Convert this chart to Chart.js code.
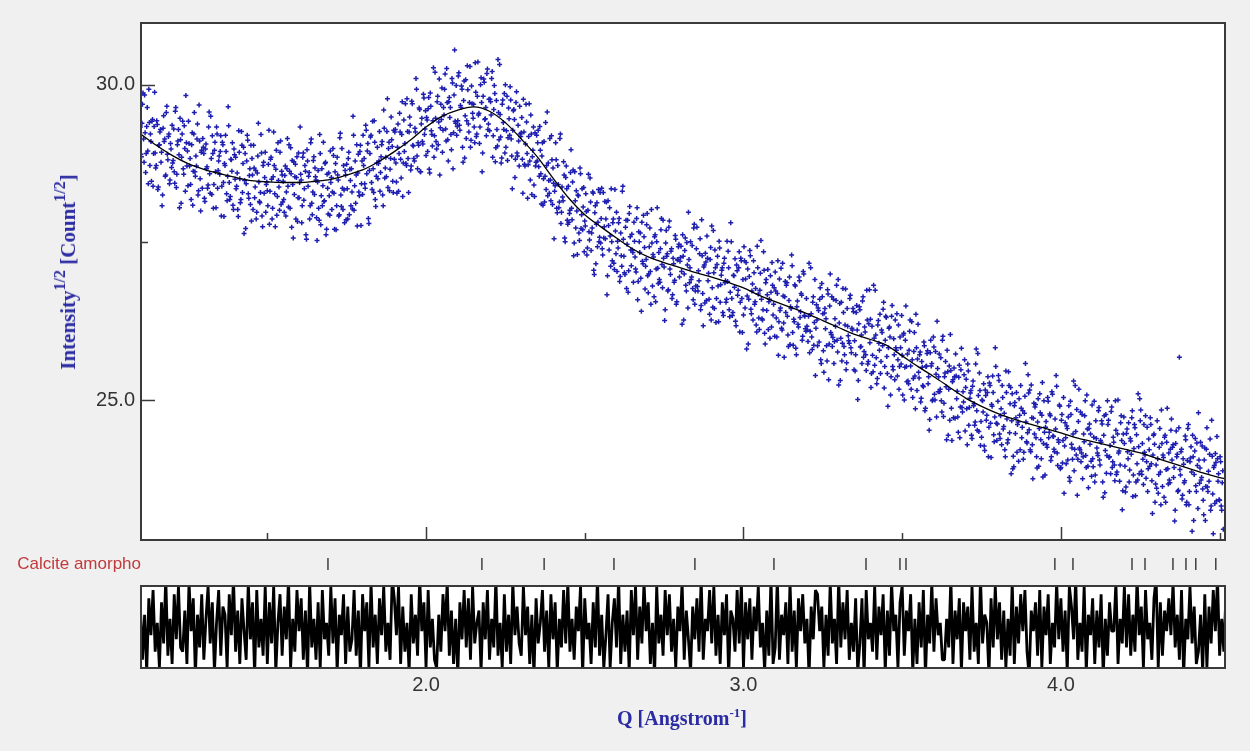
<!DOCTYPE html>
<html><head><meta charset="utf-8">
<script src="https://cdn.jsdelivr.net/npm/chart.js@4.4.0/dist/chart.umd.min.js"></script>
<style>
html,body{margin:0;padding:0;background:#f0f0f0;}
#wrap{position:relative;width:1250px;height:751px;overflow:hidden;background:#f0f0f0;}
canvas{position:absolute;left:0;top:0;}
.t{position:absolute;white-space:nowrap;}
#ytitle{left:68px;top:272px;transform:translate(-50%,-50%) rotate(-90deg);font:bold 21px 'Liberation Serif','Times New Roman',serif;color:#2b2ba3;line-height:24px;}
#xtitle{left:682px;top:718px;transform:translate(-50%,-50%);font:bold 20px 'Liberation Serif','Times New Roman',serif;color:#2b2ba3;line-height:24px;}
#ytitle sup{font-size:16px;}
sup{font-size:13px;line-height:0;vertical-align:0.6em;}
#phase{left:0;top:554px;width:141px;text-align:right;font:17px 'Liberation Sans',Arial,sans-serif;color:#c0393b;line-height:20px;}
</style></head>
<body><div id="wrap">
<canvas id="main" width="1250" height="751"></canvas>
<canvas id="marks" width="1250" height="751"></canvas>
<canvas id="resid" width="1250" height="751"></canvas>
<div class="t" id="ytitle">Intensity<sup>1/2</sup> [Count<sup>1/2</sup>]</div>
<div class="t" id="xtitle">Q [Angstrom<sup>-1</sup>]</div>
<div class="t" id="phase">Calcite amorpho</div>
</div>
<script>
// ---- data ----
const qStart = 1.10;
const qStep = 1 / 300;
const observed = [
29.33,28.86,29.69,29.14,29.84,28.61,29.34,28.95,29.93,28.72,29.10,29.42,28.39,29.34,28.92,
28.72,29.37,28.38,29.05,29.29,28.93,28.25,29.51,29.14,28.57,29.66,28.81,29.22,28.49,28.98,
29.36,28.80,28.62,29.58,28.37,29.05,29.29,28.05,29.13,28.85,29.42,28.58,28.99,29.83,28.71,
28.40,29.07,28.83,28.18,29.24,28.63,29.56,28.55,28.71,29.38,28.32,29.11,28.00,28.96,29.15,
28.91,28.15,29.06,28.70,28.41,29.57,28.28,28.83,29.19,28.04,28.96,28.62,29.33,28.36,28.79,
28.58,29.19,28.39,29.05,27.91,28.72,28.94,28.16,29.65,28.45,28.23,28.81,29.08,28.02,28.89,
28.85,28.39,28.02,29.27,28.51,28.18,29.04,28.75,27.64,28.91,28.43,29.20,28.27,28.56,28.10,
27.84,28.57,29.04,28.21,28.64,27.98,28.87,28.46,28.13,29.21,27.92,28.72,28.28,28.93,28.42,
28.32,28.74,27.79,28.82,28.50,28.04,29.25,28.27,28.66,27.93,29.08,28.38,28.93,28.10,28.57,
28.47,27.98,28.71,28.30,29.15,28.06,28.63,29.00,27.74,28.42,28.78,28.54,27.87,28.86,28.21,
28.21,29.33,28.49,28.08,28.92,28.35,28.63,27.55,28.79,28.55,27.87,29.08,28.12,28.30,28.86,
28.68,28.49,27.53,28.64,27.85,28.91,28.24,28.08,29.09,28.16,28.77,27.71,28.36,28.60,27.93,
28.45,28.02,28.99,28.28,28.62,27.70,28.85,28.49,27.94,29.23,28.07,28.36,28.72,27.81,28.57,
28.74,27.87,28.93,28.66,28.08,28.30,29.50,28.01,28.79,28.57,27.76,28.90,28.24,29.04,28.43,
28.26,28.72,28.43,29.36,28.59,29.07,27.80,28.91,29.20,28.34,28.67,29.43,28.18,28.55,29.01,
28.75,29.26,28.61,29.05,28.25,29.60,28.52,28.85,29.26,28.37,29.09,28.66,29.49,29.02,28.29,
28.82,29.29,28.46,29.01,28.31,29.55,28.82,29.21,28.23,29.44,29.07,28.75,29.78,28.83,29.25,
29.36,28.71,29.70,29.03,28.79,29.25,29.93,28.67,29.04,29.61,28.62,29.47,29.06,29.79,29.30,
28.88,29.44,29.62,28.66,29.87,29.27,29.03,30.27,29.19,29.47,28.98,29.82,29.41,28.57,29.69,
29.95,29.28,29.52,30.17,29.11,29.72,28.79,29.80,29.64,28.97,30.03,29.24,30.55,29.39,29.20,
29.43,30.19,29.28,29.64,29.93,28.77,30.06,29.51,29.15,30.30,29.38,29.72,29.01,29.98,29.55,
29.69,29.08,29.88,29.22,30.36,29.55,29.33,30.11,28.62,29.82,30.04,29.46,29.19,30.25,29.38,
29.27,29.73,30.10,28.85,29.61,29.86,29.00,29.29,30.40,29.13,29.53,28.76,29.69,29.40,29.86,
30.00,29.27,28.80,29.63,29.20,29.76,28.87,29.28,29.61,28.53,29.72,28.92,29.36,28.71,29.22,
29.24,28.82,29.77,28.74,29.06,29.41,28.20,29.18,28.79,29.52,28.26,28.96,28.41,29.24,28.77,
28.79,29.28,28.55,28.96,28.11,29.08,28.51,28.14,29.40,28.72,28.24,28.48,29.15,28.16,28.81,
28.68,27.56,28.40,28.81,27.97,28.42,28.14,29.22,27.98,28.22,28.78,27.57,28.53,28.35,27.79,
27.82,28.01,28.97,27.86,28.65,27.49,28.16,28.32,27.31,28.24,27.53,28.59,27.94,27.70,28.37,
27.84,28.27,27.30,28.01,27.67,28.52,27.37,27.73,28.28,26.99,28.08,27.79,27.43,28.34,27.58,
27.49,28.36,27.30,27.57,28.15,27.87,26.67,28.16,27.38,27.60,28.35,27.21,27.87,27.07,27.68,
27.98,27.52,27.81,26.88,27.65,27.12,28.39,27.28,26.99,27.85,27.47,26.71,27.96,27.59,27.13,
27.38,26.87,27.52,27.08,27.88,26.59,27.67,27.34,26.93,27.82,27.16,27.59,26.76,27.23,27.96,
26.70,27.43,27.04,28.02,26.81,27.27,27.59,26.56,27.51,27.09,27.34,26.87,27.70,27.15,27.85,
27.11,26.43,27.69,27.32,26.75,27.84,26.99,27.40,26.67,27.16,26.90,27.55,26.56,27.23,27.47,
27.20,27.44,26.20,27.28,27.00,27.57,26.73,27.14,27.98,26.86,27.51,26.95,26.77,27.73,26.52,
26.81,27.74,26.73,26.89,27.56,26.50,27.29,26.18,27.14,27.33,26.58,27.25,27.01,26.36,27.42,
27.76,26.47,27.02,27.38,26.23,27.15,26.81,27.52,26.55,26.98,27.10,26.34,27.25,26.89,26.60,
26.88,27.10,26.32,27.81,26.61,26.39,26.97,27.24,26.18,27.05,26.74,27.35,26.55,27.21,26.07,
26.35,27.21,26.92,25.81,27.08,26.60,27.37,26.44,26.73,26.27,27.02,26.56,26.19,27.44,26.68,
26.12,27.01,26.60,26.27,27.35,26.06,26.86,26.42,27.07,26.56,25.98,26.71,27.18,26.35,26.78,
27.03,26.30,26.69,25.71,26.92,26.46,26.14,27.17,26.22,26.64,26.39,26.86,26.03,26.58,25.88,
26.45,27.13,25.87,26.24,26.81,25.72,26.57,26.16,26.89,26.40,26.66,26.01,27.00,26.33,26.09,
26.17,25.93,27.17,26.09,26.37,25.80,26.64,26.23,25.39,26.51,25.86,26.42,26.60,25.64,26.85,
26.37,25.44,26.45,26.29,25.62,26.68,25.89,27.00,26.04,25.85,26.60,25.93,26.17,26.82,25.76,
25.24,26.53,25.98,25.62,26.77,25.85,26.19,25.48,26.45,26.02,25.90,26.66,25.75,26.11,26.40,
25.94,25.72,26.50,25.01,26.21,26.43,25.85,25.58,26.64,25.77,26.08,25.47,26.27,25.61,26.75,
26.28,25.42,25.71,26.82,25.55,26.03,25.26,26.19,25.90,26.36,25.61,26.07,26.44,25.19,25.95,
26.31,25.42,25.83,26.16,25.08,26.33,25.53,25.97,25.32,25.83,26.37,25.64,25.17,26.00,25.57,
25.71,26.03,25.00,25.95,25.53,25.73,25.26,26.09,25.54,26.24,25.04,25.77,25.38,26.36,25.15,
26.20,25.35,25.76,25.03,25.52,25.21,25.86,24.87,25.54,25.78,25.37,24.69,25.95,25.58,25.01,
25.84,25.00,25.41,26.25,25.13,25.73,25.17,24.99,25.95,24.74,25.37,25.61,24.37,25.45,25.17,
24.68,25.47,24.36,25.32,25.51,24.71,25.38,25.14,24.49,25.55,24.89,25.82,24.81,24.97,25.64,
25.20,24.86,25.57,24.60,25.03,25.15,24.39,25.30,24.94,24.65,25.81,24.52,25.07,25.43,24.28,
24.41,24.99,25.26,24.20,25.07,24.76,25.37,24.57,25.23,24.09,24.90,25.12,24.34,25.83,24.63,
24.62,25.39,24.46,24.75,24.29,25.04,24.58,24.21,25.46,24.70,24.37,25.23,24.94,23.83,25.10,
24.11,24.91,24.47,25.12,24.61,24.03,24.76,25.23,24.40,24.83,24.17,25.06,24.65,24.32,25.40,
24.53,24.21,25.24,24.29,24.71,24.46,24.93,24.10,24.65,23.95,25.10,24.37,24.76,23.78,24.99,
23.81,24.66,24.25,24.98,24.49,24.75,24.10,25.09,24.42,24.18,24.54,25.22,23.96,24.33,24.90,
23.93,24.77,24.36,23.52,24.64,23.99,24.55,24.73,23.77,24.98,24.30,24.06,25.30,24.22,24.50,
24.85,24.06,25.17,24.21,24.02,24.77,24.10,24.34,24.99,23.93,24.54,23.61,24.62,24.46,23.79,
24.07,24.41,23.70,24.67,24.24,24.12,24.88,23.97,24.33,24.62,23.46,24.75,24.20,23.84,24.99,
24.68,24.10,23.83,24.89,24.02,24.33,23.72,24.52,23.86,25.00,24.19,23.97,24.75,23.26,24.46,
24.31,23.54,24.47,24.18,24.64,23.89,24.35,24.72,23.47,24.23,24.56,23.70,23.99,25.10,23.83,
24.67,23.87,24.31,23.66,24.17,24.75,24.02,23.55,24.38,23.95,24.61,23.72,24.13,24.46,23.38,
23.97,24.67,23.52,24.25,23.86,24.84,23.63,24.09,24.41,23.38,24.33,23.91,24.16,23.69,24.52,
24.05,24.29,23.93,23.25,24.51,24.14,23.57,25.68,23.81,24.22,23.49,23.98,23.72,24.37,23.38,
24.55,23.34,24.02,24.26,22.92,24.10,23.82,24.39,23.55,23.96,24.80,23.68,24.33,23.77,23.59,
23.18,24.24,23.63,24.56,23.55,23.71,24.38,23.32,24.11,22.88,23.96,24.15,23.40,24.07,23.83,
23.41,24.02,23.25,23.88
];
// points measured half a step later on the same grid
const observedOffset = [
28.90,29.39,29.87,28.77,29.24,28.91,29.64,28.43,29.40,29.22,28.47,29.45,28.91,29.88,28.68,
29.43,28.34,29.04,29.25,28.77,28.08,29.31,29.10,28.55,29.56,28.90,29.18,28.43,29.07,28.69,
28.76,29.30,28.44,29.64,28.58,29.11,28.89,29.47,28.12,29.22,28.67,29.35,28.31,29.08,28.95,
29.42,28.71,28.42,29.05,28.09,29.22,28.62,28.87,29.14,28.25,29.68,28.51,28.93,28.36,29.01,
28.20,28.98,28.67,28.36,29.33,28.59,29.50,28.26,28.91,28.42,29.09,28.05,29.22,28.64,28.87,
28.94,27.92,29.09,28.45,28.75,29.20,28.27,28.55,29.35,28.18,28.82,28.63,28.09,28.98,28.50,
28.35,28.60,27.91,28.93,28.13,29.26,28.29,29.01,28.48,27.72,28.79,29.12,28.20,28.67,29.04,
28.83,28.02,28.68,28.38,27.87,28.60,29.39,28.15,28.29,28.92,27.75,28.77,28.53,27.98,28.46,
28.08,29.28,28.31,28.85,27.87,28.54,28.72,27.75,28.96,28.23,28.48,28.01,29.11,28.63,28.14,
28.18,28.56,27.92,28.67,28.39,29.05,28.04,28.59,28.80,27.57,28.26,28.74,28.53,27.83,28.92,
28.45,28.58,27.81,28.85,28.17,28.72,27.62,28.97,28.39,28.61,28.08,29.14,27.94,28.80,28.26,
28.54,27.89,28.46,28.04,29.21,27.78,28.67,28.40,28.15,28.75,27.62,28.58,27.95,28.24,28.95,
28.53,28.30,28.88,27.71,28.75,28.08,28.57,27.92,29.16,28.25,28.99,28.02,28.33,28.64,27.86,
28.35,28.83,27.94,28.48,28.67,28.03,29.20,28.40,28.12,29.05,28.60,28.30,28.94,27.77,28.79,
29.20,28.83,28.36,29.28,28.95,27.88,28.64,29.17,28.45,29.42,28.29,29.09,28.07,28.76,28.51,
28.79,28.31,28.86,29.10,28.08,29.31,28.68,28.54,29.78,28.99,28.32,28.83,29.13,28.47,29.28,
29.25,28.76,28.28,29.38,28.91,29.25,28.52,29.73,28.76,28.94,29.70,28.72,29.26,28.29,29.49,
28.65,29.74,29.04,28.83,29.31,30.10,28.87,29.08,29.63,28.62,29.38,29.10,29.85,29.21,29.59,
29.48,28.94,29.80,28.60,29.66,29.21,29.43,28.85,30.20,29.10,29.73,29.05,30.09,29.32,29.45,
28.93,29.64,29.93,29.30,30.26,29.13,29.73,29.48,29.21,30.10,28.67,29.84,29.42,29.99,29.34,
30.14,29.36,29.67,29.98,29.01,29.75,28.84,30.08,29.43,29.92,29.25,30.29,29.12,29.70,29.47,
29.33,30.35,29.18,29.82,29.52,29.07,30.00,29.72,28.92,30.09,29.45,29.64,30.18,29.29,29.77,
29.77,29.52,30.21,29.19,29.99,28.78,29.75,29.03,29.56,30.32,29.17,28.84,29.76,29.29,28.92,
29.01,29.82,29.16,29.46,29.97,29.14,28.35,29.59,29.45,28.82,29.89,28.87,29.11,29.66,29.18,
29.48,28.28,29.25,28.71,29.69,28.91,28.73,29.70,28.49,29.22,28.86,29.33,28.23,28.71,29.20,
29.08,28.70,29.34,28.59,28.87,28.09,29.10,28.55,28.34,29.57,28.76,28.28,28.49,29.19,28.10,
28.44,28.31,29.08,28.04,28.72,28.05,29.15,27.80,28.38,28.16,28.57,27.51,28.71,27.85,28.39,
27.96,28.61,28.04,28.46,27.29,28.62,27.73,28.00,28.25,27.65,28.68,27.72,28.35,28.06,27.35,
27.76,27.99,27.41,28.58,27.54,28.14,27.65,28.30,27.06,27.97,27.16,28.13,27.82,27.51,28.29,
27.88,27.40,28.29,27.75,27.56,28.14,26.97,27.77,28.05,27.12,27.51,27.81,27.17,28.34,27.32,
27.04,27.41,27.88,26.96,27.29,28.31,27.55,27.02,27.74,26.77,27.85,27.05,28.07,27.38,27.63,
27.34,27.82,27.27,27.03,28.05,26.88,27.51,27.65,26.41,27.20,27.93,27.42,27.12,27.78,26.97,
27.00,27.73,26.52,27.49,27.31,26.64,27.62,27.08,28.05,26.85,26.91,27.40,27.88,26.78,27.25,
26.26,27.49,27.28,26.73,27.74,27.08,27.36,26.61,27.25,26.87,27.61,26.52,27.22,27.43,26.95,
27.26,27.04,27.62,26.27,27.37,26.82,27.50,26.46,27.23,27.10,26.91,27.45,26.59,27.79,26.73,
27.40,26.80,27.05,27.32,26.43,27.86,26.69,27.11,26.54,27.19,27.60,26.89,26.60,27.23,26.27,
26.78,27.69,26.45,27.10,26.61,27.28,26.24,27.41,26.83,27.06,26.39,27.17,26.86,26.55,27.52,
27.36,26.43,26.71,27.51,26.34,26.98,26.79,26.25,27.14,26.66,27.10,26.08,27.25,26.61,26.91,
27.43,26.46,27.18,26.65,25.89,26.96,27.29,26.37,26.84,27.21,26.52,26.77,26.08,27.10,26.30,
26.74,27.53,26.29,26.43,27.06,25.89,26.91,26.67,26.12,26.60,26.97,26.16,26.82,26.52,26.01,
26.73,26.00,27.21,26.24,26.42,27.09,26.11,26.65,25.68,26.88,26.82,26.33,25.85,26.95,26.48,
27.30,26.07,26.28,26.83,25.82,26.48,26.20,26.95,26.31,26.69,25.95,27.04,26.34,26.13,26.61,
26.11,26.33,25.75,27.10,26.00,26.55,25.87,26.91,26.14,26.27,26.46,25.92,26.78,25.58,26.64,
25.78,26.38,26.13,25.86,26.75,25.32,26.49,26.07,26.64,25.99,25.58,26.29,26.58,25.95,26.91,
26.22,25.31,26.55,25.90,26.39,25.72,26.76,25.59,26.17,25.94,26.61,25.83,26.14,26.45,25.48,
25.46,26.39,26.11,25.31,26.48,25.84,26.03,26.57,25.68,26.16,25.72,26.74,25.57,26.21,25.91,
25.20,26.17,25.45,25.98,26.74,25.67,25.34,26.26,25.79,25.42,26.11,25.86,26.55,25.53,26.33,
25.69,24.90,26.14,26.00,25.37,26.50,25.48,25.72,26.27,25.79,25.38,26.19,25.53,25.83,26.34,
25.08,26.06,25.52,26.49,25.29,25.30,25.79,26.27,25.17,25.64,25.34,26.07,24.86,25.83,25.65,
25.44,25.72,24.97,25.61,25.23,25.92,24.83,25.53,25.74,25.26,24.52,25.75,25.54,24.99,26.00,
25.09,25.77,24.73,25.50,25.37,25.13,25.67,24.81,26.01,24.95,25.43,25.21,25.79,24.44,25.54,
26.04,24.87,25.29,24.72,25.37,25.73,25.02,24.73,25.36,24.40,25.48,24.88,25.13,25.40,24.51,
25.33,24.29,25.46,24.88,25.11,24.44,25.22,24.91,24.60,25.57,24.83,25.74,24.50,25.15,24.66,
25.00,24.81,24.27,25.16,24.68,25.12,24.10,25.27,24.63,24.93,25.38,24.45,24.73,25.53,24.36,
24.98,25.31,24.39,24.86,25.23,24.54,24.79,24.10,25.12,24.32,25.45,24.48,25.20,24.67,23.91,
23.94,24.96,24.72,24.17,24.65,25.02,24.21,24.87,24.57,24.06,24.79,25.58,24.34,24.48,25.11,
25.16,24.18,24.72,23.75,24.95,24.89,24.40,23.92,25.02,24.55,24.80,24.07,25.28,24.31,24.49,
24.57,24.29,25.04,24.40,24.78,24.04,25.13,24.43,24.22,24.70,25.39,24.16,24.37,24.92,23.91,
24.68,24.00,25.04,24.27,24.40,24.59,24.05,24.91,23.71,24.77,24.24,24.46,23.88,25.23,24.13,
23.49,24.66,24.24,24.81,24.16,23.75,24.46,24.75,24.12,25.08,23.95,24.55,24.30,24.03,24.92,
23.94,24.98,23.81,24.39,24.16,24.83,24.05,24.36,24.67,23.70,24.44,23.53,24.77,24.12,24.61,
24.09,24.28,24.82,23.93,24.41,23.97,24.99,23.82,24.46,24.16,23.71,24.64,24.36,23.56,24.73,
23.95,23.62,24.54,24.07,23.70,24.39,24.14,24.83,23.81,24.61,23.48,24.45,23.73,24.26,25.02,
24.84,23.82,24.06,24.61,24.13,23.76,24.57,23.91,24.21,24.72,23.99,23.20,24.44,24.30,23.67,
23.60,24.07,23.82,24.55,23.34,24.31,24.13,23.46,24.44,23.90,24.87,23.67,23.73,24.22,24.70,
24.25,23.77,23.08,24.31,24.10,23.55,24.56,23.90,24.18,23.43,24.07,23.69,24.43,23.34,24.04,
24.61,23.55,24.08,23.86,24.44,23.09,24.19,23.64,24.32,23.28,24.05,23.92,23.73,24.27,23.41,
24.05,23.09,24.22,23.62,23.87,24.14,23.25,24.68,23.51,23.93,23.36,24.01,24.42,23.71,23.42,
24.10,23.32,23.69,22.95
];
const fitQ = [1.10,1.15,1.20,1.25,1.30,1.35,1.40,1.45,1.50,1.55,1.60,1.65,1.70,1.75,1.80,1.85,1.90,1.95,2.00,2.05,2.10,2.15,2.20,2.25,2.30,2.35,2.40,2.45,2.50,2.55,2.60,2.65,2.70,2.75,2.80,2.85,2.90,2.95,3.00,3.05,3.10,3.15,3.20,3.25,3.30,3.35,3.40,3.45,3.50,3.55,3.60,3.65,3.70,3.75,3.80,3.85,3.90,3.95,4.00,4.05,4.10,4.15,4.20,4.25,4.30,4.35,4.40,4.45,4.50,4.517];
const fitI = [29.22,29.04,28.88,28.75,28.66,28.59,28.53,28.48,28.46,28.45,28.45,28.47,28.50,28.57,28.65,28.78,28.94,29.12,29.33,29.50,29.60,29.65,29.58,29.40,29.14,28.86,28.52,28.20,27.94,27.75,27.57,27.40,27.27,27.18,27.10,27.02,26.95,26.87,26.78,26.66,26.56,26.47,26.37,26.26,26.15,26.04,25.96,25.87,25.70,25.53,25.37,25.20,25.03,24.90,24.79,24.70,24.62,24.55,24.48,24.40,24.34,24.28,24.22,24.16,24.08,24.00,23.92,23.84,23.77,23.75];
const residualStep = 1 / 150;
const residual = [
5,-8,3,-11,7,-2,9,-6,1,-10,6,-4,12,-7,2,-9,8,-3,10,-5,
-6,4,-9,11,-1,7,-12,3,-5,8,-8,2,10,-4,6,-11,1,9,-7,5,
3,-10,8,-2,12,-6,4,-9,7,-1,-8,11,-3,6,-12,9,-5,2,-7,10,
-9,6,-4,10,-11,1,8,-7,5,-3,12,-10,2,-6,9,-1,7,-8,4,-12,
11,-5,2,-8,6,-10,9,-3,1,-7,10,-4,7,-11,3,-2,8,-9,5,-6,
-3,9,-7,4,-12,8,-1,6,-10,11,-5,3,-9,7,-2,10,-6,1,-8,12,
7,-2,10,-9,5,-6,1,-11,8,-4,3,-7,12,-1,6,-10,9,-5,2,-8,
-10,3,-6,8,-1,11,-7,4,-9,2,-12,6,-3,9,-5,7,-8,10,-4,1,
4,-11,6,-3,9,-8,2,-5,12,-7,1,-10,8,-6,3,-9,11,-2,5,-4,
-7,10,-2,5,-9,3,-12,7,-4,1,9,-6,4,-10,8,-3,6,-11,2,-5,
9,-4,11,-6,2,-8,5,-1,10,-12,7,-3,1,-9,6,-5,12,-7,3,-10,
-2,8,-10,1,7,-5,12,-9,3,-6,4,-11,9,-2,10,-8,5,-4,11,-1,
6,-9,1,-12,10,-4,3,-7,9,-2,8,-6,2,-10,5,-1,11,-8,4,-3,
-11,5,-3,7,-6,12,-8,2,-1,9,-4,10,-7,3,-9,6,-2,8,-12,4,
2,-6,9,-4,11,-10,6,-3,7,-8,5,-1,10,-5,1,-11,4,-7,12,-9,
-5,12,-8,3,-2,6,-9,11,-6,4,-10,7,-1,8,-4,2,-12,5,-3,9,
8,-1,5,-10,3,-7,11,-4,2,-9,12,-5,6,-3,9,-8,1,-6,7,-11,
-4,7,-12,9,-3,1,-6,10,-8,5,-2,8,-11,4,-7,11,-1,3,-10,6,
10,-7,4,-1,8,-11,2,-9,6,-5,9,-12,3,-4,11,-6,7,-2,1,-8,
-8,2,-5,12,-9,4,-3,7,-11,6,-1,5,-8,10,-6,1,-9,12,-4,3,
1,-12,7,-5,10,-3,6,-8,4,-10,2,-7,11,-9,5,-4,8,-1,9,-6,
-12,4,-1,6,-7,9,-10,5,-2,8,-9,1,-5,11,-3,7,-6,4,-11,10,
5,-3,12,-8,1,-6,10,-11,3,-2,7,-9,4,-5,8,-12,2,-7,6,-1,
-1,11,-9,2,-4,10,-5,8,-7,3,-6,12,-2,5,-10,9,-3,1,-8,7,
12,-10,6,-7,4,-1,7,-2,11,-5,3,-8,9,-12,2,-3,10,-4,5,-9,
-6,3,-11,8,-10,5,-4,9,-1,12,-7,2,-6,8,-9,4,-5,11,-2,6
];
const reflections = [1.691,2.176,2.372,2.592,2.847,3.096,3.386,3.493,3.512,3.981,4.038,4.224,4.265,4.353,4.394,4.425,4.488];
const xTickValues = [1.5,2.0,2.5,3.0,3.5,4.0,4.5];
const xMajorTicks = [2.0,3.0,4.0];
const yTickValues = [25.0,27.5,30.0];
const yMajorTicks = [25.0,30.0];

// ---- drawing ----
const X_MIN = 1.102, X_MAX = 4.517;
Chart.defaults.font.family = "'Liberation Sans', Arial, Helvetica, sans-serif";
Chart.defaults.color = '#333';

const panelPlugin = {
  id: 'panel',
  beforeDraw(chart, args, o) {
    if (!o.fill) return;
    const a = chart.chartArea, ctx = chart.ctx;
    ctx.save(); ctx.fillStyle = '#ffffff';
    ctx.fillRect(a.left, a.top, a.right - a.left, a.bottom - a.top);
    ctx.restore();
  },
  afterDraw(chart, args, o) {
    if (!o.frame) return;
    const a = chart.chartArea, ctx = chart.ctx;
    ctx.save();
    ctx.strokeStyle = '#3a3a3a';
    if (o.ticks) {
      const xs = chart.scales.x, ys = chart.scales.y;
      ctx.lineWidth = 1.5;
      ctx.beginPath();
      xTickValues.forEach(v => {
        const px = Math.round(xs.getPixelForValue(v)) + 0.5;
        const len = xMajorTicks.includes(v) ? 13 : 7;
        ctx.moveTo(px, a.bottom); ctx.lineTo(px, a.bottom - len);
      });
      yTickValues.forEach(v => {
        const py = Math.round(ys.getPixelForValue(v)) + 0.5;
        const len = yMajorTicks.includes(v) ? 14 : 7;
        ctx.moveTo(a.left, py); ctx.lineTo(a.left + len, py);
      });
      ctx.stroke();
    }
    ctx.lineWidth = 2;
    ctx.strokeRect(a.left, a.top, a.right - a.left, a.bottom - a.top);
    ctx.restore();
  }
};

const common = { responsive: false, animation: false, devicePixelRatio: 1 };
const pointStyleOpts = { pointStyle: 'cross', pointRadius: 2.5, pointBorderWidth: 1.5, pointBorderColor: '#1e1eb0',
  borderColor: '#1e1eb0', backgroundColor: '#1e1eb0', showLine: false, clip: 0 };

new Chart(document.getElementById('main'), {
  type: 'scatter',
  data: { datasets: [
    { type: 'line', label: 'Calculated', data: fitQ.map((q, i) => ({ x: q, y: fitI[i] })),
      borderColor: '#000', borderWidth: 1.3, pointRadius: 0, cubicInterpolationMode: 'monotone', fill: false, clip: 0 },
    Object.assign({ type: 'scatter', label: 'Observed', data: observed.map((v, i) => ({ x: qStart + i * qStep, y: v })) }, pointStyleOpts),
    Object.assign({ type: 'scatter', label: 'Observed (offset)', data: observedOffset.map((v, i) => ({ x: qStart + (i + 0.5) * qStep, y: v })) }, pointStyleOpts)
  ]},
  options: Object.assign({}, common, {
    layout: { padding: { left: 0, right: 25, top: 23, bottom: 211 } },
    plugins: { legend: { display: false }, tooltip: { enabled: false }, panel: { fill: true, frame: true, ticks: true } },
    scales: {
      x: { type: 'linear', min: X_MIN, max: X_MAX, display: false },
      y: { type: 'linear', min: 22.78, max: 30.98,
           afterFit(s) { s.width = 141; },
           grid: { display: false, drawTicks: false }, border: { display: false },
           ticks: { stepSize: 2.5, padding: 6, font: { size: 20 }, color: '#333',
                    callback: v => yMajorTicks.some(t => Math.abs(t - v) < 1e-6) ? v.toFixed(1) : '' } }
    }
  }),
  plugins: [panelPlugin]
});

new Chart(document.getElementById('marks'), {
  type: 'scatter',
  data: { datasets: [{ label: 'Calcite amorpho', data: reflections.map(q => ({ x: q, y: 0 })),
    pointStyle: 'line', pointRotation: 90, pointRadius: 6, pointBorderWidth: 1.4,
    pointBorderColor: '#333', borderColor: '#333', clip: false }] },
  options: Object.assign({}, common, {
    layout: { padding: { left: 141, right: 25, top: 558, bottom: 181 } },
    plugins: { legend: { display: false }, tooltip: { enabled: false } },
    scales: { x: { type: 'linear', min: X_MIN, max: X_MAX, display: false }, y: { min: -1, max: 1, display: false } }
  })
});

new Chart(document.getElementById('resid'), {
  type: 'line',
  data: { datasets: [{ label: 'Difference', data: residual.map((r, i) => ({ x: qStart + i * residualStep, y: r })),
    borderColor: '#000', borderWidth: 2.8, borderJoinStyle: 'bevel', pointRadius: 0, tension: 0, fill: false, clip: 0 }] },
  options: Object.assign({}, common, {
    layout: { padding: { left: 141, right: 25, top: 586, bottom: 43 } },
    plugins: { legend: { display: false }, tooltip: { enabled: false }, panel: { fill: true, frame: true, ticks: false } },
    scales: {
      x: { type: 'linear', min: X_MIN, max: X_MAX, afterFit(s) { s.height = 40; },
           grid: { display: false, drawTicks: false }, border: { display: false },
           ticks: { stepSize: 0.5, autoSkip: false, maxRotation: 0, padding: 5, font: { size: 20 }, color: '#333',
                    callback: v => xMajorTicks.some(t => Math.abs(t - v) < 1e-6) ? v.toFixed(1) : '' } },
      y: { min: -10, max: 10, display: false }
    }
  }),
  plugins: [panelPlugin]
});
</script>
</body></html>
